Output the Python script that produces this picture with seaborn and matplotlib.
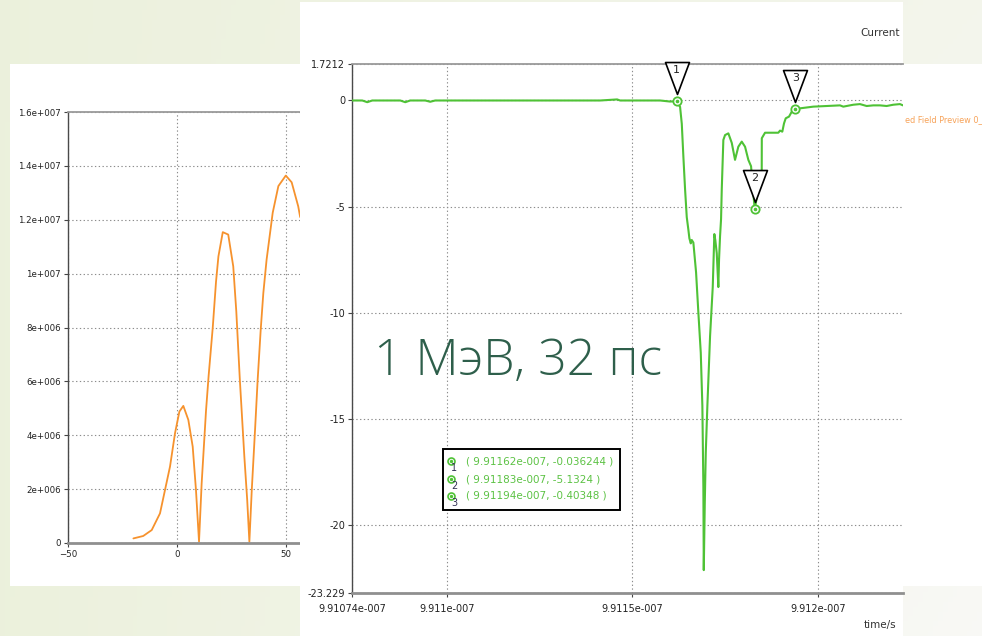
import numpy as np
import pandas as pd
import matplotlib
matplotlib.use("Agg")
import matplotlib.pyplot as plt
import seaborn as sns
from matplotlib.path import Path
from matplotlib.transforms import offset_copy
from matplotlib.patches import Rectangle

sns.set_style("white")
plt.rcParams['font.family'] = ['DejaVu Sans']

# left window: field amplitude (orange)
field_x = [-20.0, -15.5, -11.6, -7.8, -5.5, -3.2, -0.9, 1.1, 2.9, 5.2, 7.2, 8.7, 10.1,
           11.3, 13.3, 14.5, 16.4, 17.9, 19.0, 21.0, 23.5, 25.8, 27.2, 28.8, 30.9, 32.2,
           33.2, 34.3, 35.8, 37.0, 38.4, 39.6, 41.1, 43.9, 46.5, 49.9, 52.6, 55.6, 56.5]
field_y = [0.17e6, 0.26e6, 0.48e6, 1.1e6, 1.97e6, 2.84e6, 4.08e6, 4.88e6, 5.09e6, 4.57e6,
           3.58e6, 1.97e6, 0.05e6, 2.2e6, 4.9e6, 6.2e6, 8.0e6, 9.7e6, 10.64e6, 11.54e6,
           11.45e6, 10.27e6, 8.6e6, 6.1e6, 3.2e6, 1.6e6, 0.05e6, 1.97e6, 4.2e6, 6.06e6,
           7.92e6, 9.28e6, 10.52e6, 12.26e6, 13.25e6, 13.64e6, 13.39e6, 12.5e6, 12.1e6]
field_yticks = [0, 2e6, 4e6, 6e6, 8e6, 1e7, 1.2e7, 1.4e7, 1.6e7]
field_ylabels = ["0", "2e+006", "4e+006", "6e+006", "8e+006", "1e+007", "1.2e+007",
                 "1.4e+007", "1.6e+007"]
field_xticks = [-50, 0, 50]

# right window: current vs time
cur_t = [9.9107440, 9.9107717, 9.9107851, 9.9107986, 9.9108741, 9.9108876, 9.9109010,
         9.9109415, 9.9109549, 9.9109684, 9.9110088, 9.9111436, 9.9112784, 9.9114132,
         9.9114590, 9.9114671, 9.9115749, 9.9116018, 9.9116200,
         9.9116288, 9.9116334, 9.9116377, 9.9116423, 9.9116468, 9.9116512, 9.9116539,
         9.9116576, 9.9116603, 9.9116646, 9.9116719, 9.9116781, 9.9116846, 9.9116889,
         9.9116916, 9.9116927, 9.9116954, 9.9116981, 9.9117024, 9.9117097, 9.9117169,
         9.9117212, 9.9117239, 9.9117277, 9.9117320, 9.9117339, 9.9117366, 9.9117393,
         9.9117412, 9.9117455, 9.9117501, 9.9117590, 9.9117682, 9.9117770, 9.9117859,
         9.9117951, 9.9118040, 9.9118129, 9.9118202, 9.9118300, 9.9118490, 9.9118492,
         9.9118579, 9.9118938, 9.9118983, 9.9119045, 9.9119091, 9.9119137, 9.9119226,
         9.9119299, 9.9119400, 9.9119522, 9.9119881, 9.9120242, 9.9120601, 9.9120690,
         9.9120959, 9.9121140, 9.9121320, 9.9121498, 9.9121679, 9.9121859, 9.9122037,
         9.9122218, 9.9122300]
cur_v = [0.0, 0.0, -0.08, 0.0, 0.0, -0.08, 0.0, 0.0, -0.06, 0.0, 0.0, 0.0, 0.0, 0.0,
         0.05, 0.0, 0.0, -0.05, -0.036,
         -0.3, -1.1, -2.65, -4.2, -5.5, -6.1, -6.5, -6.74, -6.58, -6.7, -8.1, -10.0,
         -11.9, -14.4, -18.2, -22.15, -19.0, -16.6, -14.4, -11.1, -8.8, -6.3, -6.6,
         -7.2, -8.8, -7.5, -6.4, -5.6, -4.2, -1.86, -1.63, -1.55, -2.0, -2.8, -2.18,
         -1.94, -2.18, -2.8, -3.1, -5.13, -3.28, -1.78, -1.52, -1.52, -1.42, -1.47,
         -1.08, -0.84, -0.76, -0.53, -0.40, -0.37, -0.29, -0.26, -0.23, -0.29, -0.20,
         -0.17, -0.26, -0.23, -0.23, -0.26, -0.20, -0.17, -0.23]
cur_t = [t * 1e-7 for t in cur_t]

mark_t = [9.91162e-7, 9.91183e-7, 9.91194e-7]
mark_v = [-0.036244, -5.1324, -0.40348]
mark_labels = ["( 9.91162e-007, -0.036244 )", "( 9.91183e-007, -5.1324 )",
               "( 9.91194e-007, -0.40348 )"]

cur_xticks = [9.910744e-7, 9.911e-7, 9.9115e-7, 9.912e-7]
cur_xlabels = ["9.91074e-007", "9.911e-007", "9.9115e-007", "9.912e-007"]
cur_yticks = [1.7212, 0, -5, -10, -15, -20, -23.229]
cur_ylabels = ["1.7212", "0", "-5", "-10", "-15", "-20", "-23.229"]

field = pd.DataFrame({"x": field_x, "y": field_y})
current = pd.DataFrame({"t": cur_t, "v": cur_v})

W, H = 982, 636
def box(x0, y0, x1, y1):
    return [x0 / W, 1 - y1 / H, (x1 - x0) / W, (y1 - y0) / H]

green = "#4fc236"
orange = "#f6922d"

fig = plt.figure(figsize=(W / 100, H / 100), dpi=100)

# slide background
bg = fig.add_axes([0, 0, 1, 1])
gx = np.linspace(0, 1, 200)[None, :, None]
gy = np.linspace(0, 1, 130)[:, None, None]
c_left = np.array([0.925, 0.945, 0.865])
c_right = np.array([0.955, 0.962, 0.925])
c_br = np.array([0.975, 0.975, 0.962])
grad = c_left * (1 - gx) + (c_right * (1 - gy) + c_br * gy) * gx
bg.imshow(grad, extent=[0, 1, 0, 1], aspect='auto')
bg.axis('off')

def panel(rect):
    p = fig.add_axes(rect)
    p.set_facecolor('white')
    p.set_xticks([])
    p.set_yticks([])
    for s in p.spines.values():
        s.set_visible(False)
    return p

def style_axes(ax, lab_size):
    ax.grid(True, linestyle=(0, (1.2, 2.2)), color='#8c8c8c', linewidth=0.8)
    ax.spines['right'].set_visible(False)
    ax.spines['left'].set_color('#4a4a4a')
    ax.spines['left'].set_linewidth(1.0)
    ax.spines['top'].set_color('#9a9a9a')
    ax.spines['top'].set_linewidth(1.3)
    ax.spines['bottom'].set_color('#8f8f8f')
    ax.spines['bottom'].set_linewidth(2.0)
    ax.tick_params(axis='both', direction='out', length=3, width=0.8, colors='#444',
                   labelsize=lab_size, labelcolor='#222', left=True, bottom=True, pad=2)

# left window
panL = panel(box(10, 64, 982, 586))
panL.text((905 - 10) / 972, 1 - (120 - 64) / 522, "ed Field Preview 0_", color="#f7a258",
          fontsize=5.9, ha='left', va='center', transform=panL.transAxes)

ax1 = fig.add_axes(box(68, 112, 880, 543))
ax1.set_facecolor('white')
sns.lineplot(data=field, x="x", y="y", ax=ax1, color=orange, linewidth=1.3,
             estimator=None, sort=False)
ax1.set_xlim(-50, -50 + (880 - 68) / 2.18)
ax1.set_ylim(0, 1.6e7)
ax1.set_yticks(field_yticks)
ax1.set_yticklabels(field_ylabels)
ax1.set_xticks(field_xticks)
ax1.set_xlabel("")
ax1.set_ylabel("")
style_axes(ax1, 6.2)

# right window
panR = panel(box(300, 2, 903, 636))
panR.text((900 - 300) / 603, 1 - 31 / 634, "Current", fontsize=7.5, color='#333',
          ha='right', va='center', transform=panR.transAxes)
panR.text((896 - 300) / 603, 1 - 623 / 634, "time/s", fontsize=7.5, color='#333',
          ha='right', va='center', transform=panR.transAxes)

ax2 = fig.add_axes(box(352, 64, 903, 593))
ax2.set_facecolor('white')
sns.lineplot(data=current, x="t", y="v", ax=ax2, color=green, linewidth=1.5,
             estimator=None, sort=False, zorder=4)
style_axes(ax2, 7)
ax2.set_xlabel("")
ax2.set_ylabel("")

tri = Path([(-0.375, 0.5), (0.375, 0.5), (0, -0.5), (-0.375, 0.5)],
           [Path.MOVETO, Path.LINETO, Path.LINETO, Path.CLOSEPOLY])
up = offset_copy(ax2.transData, fig=fig, x=0, y=23, units='dots')
for i, (t, v) in enumerate(zip(mark_t, mark_v)):
    ax2.plot([t], [v], marker=tri, ms=23, mfc='white', mec='black', mew=1.2,
             transform=up, clip_on=False, zorder=6)
    ax2.annotate(str(i + 1), (t, v), xytext=(0, 31), textcoords='offset pixels',
                 ha='center', va='center', fontsize=8, color='#222', zorder=7,
                 annotation_clip=False)
    ax2.plot([t], [v], 'o', ms=6, mfc='white', mec=green, mew=1.3, zorder=5,
             clip_on=False)
    ax2.plot([t], [v], 'o', ms=1.6, color=green, zorder=5, clip_on=False)

# marker readout box
aw, ah = 551, 529
def ax_frac(px, py):
    return (px - 352) / aw, (593 - py) / ah
x0, y0 = ax_frac(443, 510)
x1, y1 = ax_frac(620, 449)
ax2.add_patch(Rectangle((x0, y0), x1 - x0, y1 - y0, transform=ax2.transAxes,
                        facecolor='white', edgecolor='black', linewidth=1.4, zorder=8))
for i, (lab, py) in enumerate(zip(mark_labels, [461, 479, 496])):
    cx, cy = ax_frac(451, py)
    ax2.plot([cx], [cy], 'o', ms=5, mfc='white', mec=green, mew=1.2,
             transform=ax2.transAxes, zorder=9)
    ax2.plot([cx], [cy], 'o', ms=1.4, color=green, transform=ax2.transAxes, zorder=9)
    dx, dy = ax_frac(454, py + 7)
    ax2.text(dx, dy, str(i + 1), fontsize=7, color='#333355', ha='center', va='center',
             transform=ax2.transAxes, zorder=9)
    tx, ty = ax_frac(466, py)
    ax2.text(tx, ty, lab, fontsize=7.5, color='#5cc244', ha='left', va='center',
             transform=ax2.transAxes, zorder=9)

ax2.set_xlim(9.910744e-7, 9.91223e-7)
ax2.set_ylim(-23.229, 1.7212)
ax2.set_xticks(cur_xticks)
ax2.set_xticklabels(cur_xlabels)
ax2.set_yticks(cur_yticks)
ax2.set_yticklabels(cur_ylabels)
ax2.tick_params(axis='x', pad=5)

# slide caption
fig.text(518 / W, 1 - 362 / H, "1 МэВ, 32 пс", fontsize=36, color='#2e5f4b',
         family=['Open Sans', 'DejaVu Sans'], fontweight='light', ha='center', va='center',
         zorder=10)

fig.savefig("out.png", dpi=100)
